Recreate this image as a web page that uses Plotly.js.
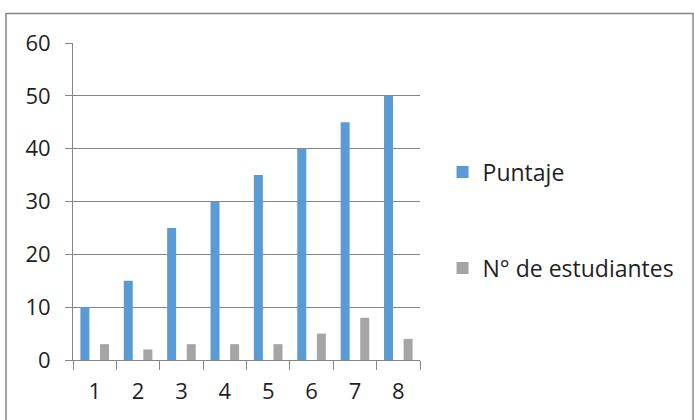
<!DOCTYPE html>
<html><head><meta charset="utf-8">
<script src="https://cdn.plot.ly/plotly-3.0.1.min.js"></script>
<style>html,body{margin:0;padding:0;background:#fff;}#chart{width:694px;height:420px;}</style>
</head><body><div id="chart"></div>
<script>
const categories = ['1','2','3','4','5','6','7','8'];
const puntaje = [10, 15, 25, 30, 35, 40, 45, 50];
const estudiantes = [3, 2, 3, 3, 3, 5, 8, 4];
const seriesNames = ['Puntaje', 'N° de estudiantes'];
const yTicks = [0, 10, 20, 30, 40, 50, 60];

const font = {family: '"Open Sans", Lato, sans-serif', size: 22, color: '#1f1f1f'};
const legendFont = {family: '"Open Sans", Lato, sans-serif', size: 23, color: '#1f1f1f'};
const traces = [
  {type: 'bar', x: categories, y: puntaje, name: seriesNames[0], marker: {color: '#5B9BD5'}, legend: 'legend', hoverinfo: 'none'},
  {type: 'bar', x: categories, y: estudiantes, name: seriesNames[1], marker: {color: '#A5A5A5'}, legend: 'legend2', hoverinfo: 'none'}
];
const layout = {
  width: 694, height: 420,
  margin: {l: 73, r: 274, t: 43, b: 60, pad: 0},
  paper_bgcolor: '#fff', plot_bgcolor: '#fff',
  font: font,
  barmode: 'group', bargap: 0.097, bargroupgap: 0.54,
  xaxis: {type: 'category', tickson: 'boundaries', ticks: 'outside', ticklen: 9, tickcolor: '#868686',
          showline: true, linecolor: '#868686', linewidth: 1, showgrid: false, tickfont: font, ticklabelstandoff: 12},
  yaxis: {range: [0, 60], tickvals: yTicks, ticks: 'outside', ticklen: 7, tickcolor: '#868686',
          showline: true, linecolor: '#868686', linewidth: 1, showgrid: true, gridcolor: '#868686', gridwidth: 1,
          zeroline: false, tickfont: font, ticklabelstandoff: 10},
  legend: {x: 1.065, y: 0.593, xanchor: 'left', yanchor: 'middle', font: legendFont, bgcolor: 'rgba(0,0,0,0)'},
  legend2: {x: 1.065, y: 0.29, xanchor: 'left', yanchor: 'middle', font: legendFont, bgcolor: 'rgba(0,0,0,0)'},
  shapes: [{type: 'rect', xref: 'paper', yref: 'paper', x0: -0.193, x1: 1.787, y0: -0.25, y1: 1.093,
            line: {color: '#868686', width: 1.5}, fillcolor: 'rgba(0,0,0,0)', layer: 'below'}],
  showlegend: true
};
Plotly.newPlot('chart', traces, layout, {displayModeBar: false, staticPlot: true});
</script></body></html>
